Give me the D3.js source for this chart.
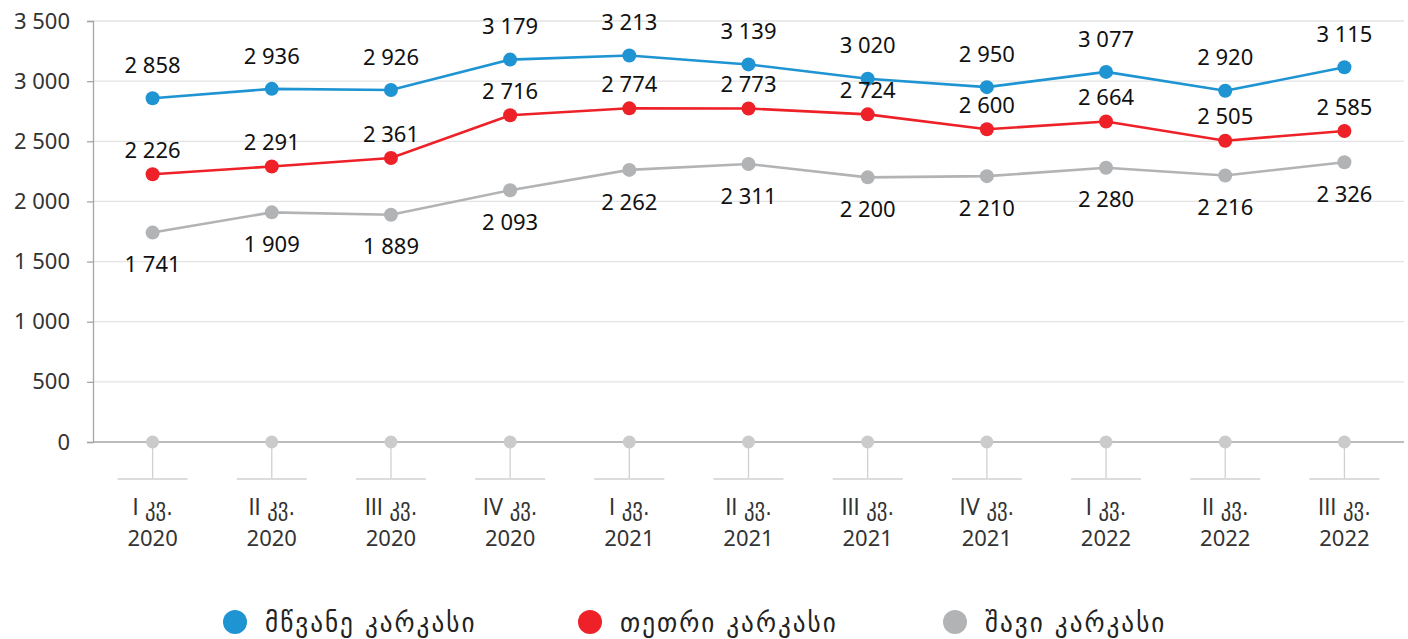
<!DOCTYPE html>
<html>
<head>
<meta charset="utf-8">
<script src="https://cdn.jsdelivr.net/npm/d3@7"></script>
<style>
  html, body { margin: 0; padding: 0; background: #fff; }
  svg { display: block; font-family: "Noto Sans", sans-serif; }
  .geo { font-family: "DejaVu Sans Condensed", "DejaVu Sans", sans-serif; }
</style>
</head>
<body>
<div id="chart"></div>
<script>
// quarters and series values
const quarters = ["I კვ.", "II კვ.", "III კვ.", "IV კვ.", "I კვ.", "II კვ.", "III კვ.", "IV კვ.", "I კვ.", "II კვ.", "III კვ."];
const years = ["2020", "2020", "2020", "2020", "2021", "2021", "2021", "2021", "2022", "2022", "2022"];
const greenValues = [2858, 2936, 2926, 3179, 3213, 3139, 3020, 2950, 3077, 2920, 3115];
const whiteValues = [2226, 2291, 2361, 2716, 2774, 2773, 2724, 2600, 2664, 2505, 2585];
const blackValues = [1741, 1909, 1889, 2093, 2262, 2311, 2200, 2210, 2280, 2216, 2326];
const baseValues = [0, 0, 0, 0, 0, 0, 0, 0, 0, 0, 0];
const yTicks = [0, 500, 1000, 1500, 2000, 2500, 3000, 3500];
const legendNames = ["მწვანე კარკასი", "თეთრი კარკასი", "შავი კარკასი"];

const series = [
  { name: legendNames[0], values: greenValues, color: "#1f94d3", dy: -33 },
  { name: legendNames[1], values: whiteValues, color: "#ee2128", dy: -24 },
  { name: legendNames[2], values: blackValues, color: "#b2b3b5", dy: 32 }
];

const W = 1408, H = 639;
const margin = { top: 21, right: 4, bottom: 197, left: 93 };
const innerW = W - margin.left - margin.right;
const innerH = H - margin.top - margin.bottom;

const fmt = v => d3.format(",")(v).replace(/,/g, " ");

const svg = d3.select("#chart").append("svg")
  .attr("width", W).attr("height", H);

const g = svg.append("g")
  .attr("transform", `translate(${margin.left},${margin.top})`);

const x = d3.scaleBand().domain(d3.range(quarters.length)).range([0, innerW]);
const cx = i => x(i) + x.bandwidth() / 2;
const y = d3.scaleLinear().domain([0, 3500]).range([innerH, 0]);

// horizontal grid
g.append("g")
  .selectAll("line")
  .data(yTicks.filter(t => t > 0))
  .join("line")
  .attr("x1", 0).attr("x2", innerW)
  .attr("y1", d => y(d)).attr("y2", d => y(d))
  .attr("stroke", "#e3e3e3").attr("stroke-width", 1.3);

// y axis
const yAxis = g.append("g")
  .call(d3.axisLeft(y).tickValues(yTicks).tickSize(6).tickPadding(17).tickFormat(fmt));
yAxis.select(".domain").attr("stroke", "#a6a6a6").attr("stroke-width", 1.3);
yAxis.selectAll(".tick line").attr("stroke", "#a6a6a6").attr("stroke-width", 1.3);
yAxis.selectAll(".tick text")
  .attr("fill", "#333").style("font-size", "22px")
  .style("font-family", "\"Noto Sans\", sans-serif");

// zero baseline
g.append("line")
  .attr("x1", 0).attr("x2", innerW)
  .attr("y1", y(0)).attr("y2", y(0))
  .attr("stroke", "#a6a6a6").attr("stroke-width", 1.5);

// drop lines and category brackets
const drop = g.append("g").attr("stroke", "#d0d0d0").attr("stroke-width", 1.3);
drop.selectAll("line.v")
  .data(baseValues)
  .join("line").attr("class", "v")
  .attr("x1", (d, i) => cx(i)).attr("x2", (d, i) => cx(i))
  .attr("y1", d => y(d)).attr("y2", innerH + 36);
drop.selectAll("line.h")
  .data(baseValues)
  .join("line").attr("class", "h")
  .attr("x1", (d, i) => cx(i) - 35).attr("x2", (d, i) => cx(i) + 35)
  .attr("y1", innerH + 37).attr("y2", innerH + 37);

g.append("g")
  .selectAll("circle")
  .data(baseValues)
  .join("circle")
  .attr("cx", (d, i) => cx(i)).attr("cy", d => y(d))
  .attr("r", 6.5).attr("fill", "#cbcbcb");

// x labels
const xl = g.append("g")
  .attr("text-anchor", "middle")
  .attr("fill", "#333")
  .style("font-size", "22px");
xl.selectAll("text.q")
  .data(quarters)
  .join("text").attr("class", "q geo")
  .attr("x", (d, i) => cx(i)).attr("y", innerH + 73)
  .style("font-size", "23px")
  .text(d => d);
xl.selectAll("text.yr")
  .data(years)
  .join("text").attr("class", "yr")
  .attr("x", (d, i) => cx(i)).attr("y", innerH + 104)
  .text(d => d);

// lines, points, value labels
const line = d3.line().x((d, i) => cx(i)).y(d => y(d));

series.forEach(s => {
  const sg = g.append("g");
  sg.append("path")
    .datum(s.values)
    .attr("d", line)
    .attr("fill", "none")
    .attr("stroke", s.color)
    .attr("stroke-width", 2.6);
  sg.selectAll("circle")
    .data(s.values)
    .join("circle")
    .attr("cx", (d, i) => cx(i)).attr("cy", d => y(d))
    .attr("r", 7).attr("fill", s.color);
  sg.selectAll("text")
    .data(s.values)
    .join("text")
    .attr("x", (d, i) => cx(i)).attr("y", d => y(d) + s.dy)
    .attr("dy", "0.35em")
    .attr("text-anchor", "middle")
    .attr("fill", "#111")
    .style("font-size", "22px")
    .text(d => fmt(d));
});

// legend
const legendX = [235, 590, 955];
const lg = svg.append("g").attr("transform", "translate(0,622)");
const item = lg.selectAll("g")
  .data(series)
  .join("g")
  .attr("transform", (d, i) => `translate(${legendX[i]},0)`);
item.append("circle").attr("r", 12).attr("fill", d => d.color);
item.append("text")
  .attr("class", "geo")
  .attr("x", 30).attr("dy", "0.35em")
  .attr("fill", "#222")
  .style("font-size", "28px")
  .style("letter-spacing", "2px")
  .text(d => d.name);
</script>
</body>
</html>
